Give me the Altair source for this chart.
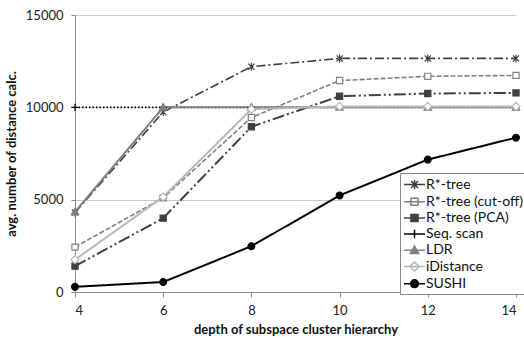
import altair as alt
import pandas as pd

depth = [4, 6, 8, 10, 12, 14]
series_names = ["R*-tree", "R*-tree (cut-off)", "R*-tree (PCA)", "Seq. scan", "LDR", "iDistance", "SUSHI"]
rtree = [4300, 9750, 12200, 12650, 12650, 12650]
rtree_cut = [2430, 5100, 9450, 11450, 11680, 11730]
rtree_pca = [1400, 4000, 8950, 10600, 10750, 10780]
seq_scan = [10000, 10000, 10000, 10000, 10000, 10000]
ldr = [4340, 10000, 10000, 10000, 10000, 10000]
idistance = [1750, 5150, 9900, 10050, 10050, 10050]
sushi = [280, 540, 2480, 5230, 7170, 8360]
values = [rtree, rtree_cut, rtree_pca, seq_scan, ldr, idistance, sushi]

colors = ["#404040", "#808080", "#404040", "#000000", "#808080", "#b8b8b8", "#000000"]
fills = ["transparent", "#ffffff", "#404040", "transparent", "#808080", "#ffffff", "#000000"]
dashes = [[9, 3, 2, 3], [5, 2], [12, 3, 2, 3, 2, 3], [1.5, 2], [1, 0], [1, 0], [1, 0]]
widths = [1.6, 1.6, 2, 1.6, 2, 2, 2]

marker = {
    "ast": [(-1, -1, 1, 1), (-1, 1, 1, -1), (0, -1.3, 0, 1.3)],
    "plus": [(-1.2, 0, 1.2, 0), (0, -1.2, 0, 1.2)],
}
series_marker = ["ast", "sq", "sq", "plus", "tri", "dia", "circ"]


def marker_path(kind, k):
    f = lambda v: str(round(v * k, 3))
    if kind in ("ast", "plus"):
        return "".join(f"M{f(a)},{f(b)}L{f(c)},{f(d)}" for a, b, c, d in marker[kind])
    if kind == "sq":
        return f"M{f(-1)},{f(-1)}H{f(1)}V{f(1)}H{f(-1)}Z"
    if kind == "tri":
        return f"M0,{f(-1.2)}L{f(1.2)},{f(0.9)}H{f(-1.2)}Z"
    if kind == "dia":
        return f"M0,{f(-1.3)}L{f(1.3)},0L0,{f(1.3)}L{f(-1.3)},0Z"
    r = f(1.1)
    return f"M-{r},0A{r},{r} 0 1,0 {r},0A{r},{r} 0 1,0 -{r},0Z"


legend_shapes = ["M-1.4,0H1.4" + marker_path(m, 0.47) for m in series_marker]

rows = []
for i, name in enumerate(series_names):
    for x, v in zip(depth, values[i]):
        rows.append({
            "depth": x, "value": v, "series": name, "order": i,
            "color": colors[i], "fill": fills[i], "dash": dashes[i],
            "sw": widths[i], "shape": marker_path(series_marker[i], 1.0),
        })
df = pd.DataFrame(rows)

FONT = "Lato"

xenc = alt.X("depth:Q", scale=alt.Scale(domain=[4, 14], nice=False),
             axis=alt.Axis(values=depth, title="depth of subspace cluster hierarchy", grid=False,
                           tickSize=5, labelPadding=7, titlePadding=6))
yenc = alt.Y("value:Q", scale=alt.Scale(domain=[0, 15000], nice=False),
             axis=alt.Axis(values=[0, 5000, 10000, 15000], format="d", title="avg. number of distance calc.",
                           grid=True, tickSize=4, labelPadding=8, titlePadding=7))

lines = alt.Chart(df).mark_line().encode(
    x=xenc, y=yenc,
    detail="series:N",
    color=alt.Color("color:N", scale=None),
    strokeDash=alt.StrokeDash("dash", scale=None),
    strokeWidth=alt.StrokeWidth("sw:Q", scale=None),
    order=alt.Order("depth:Q"),
)

points = alt.Chart(df).mark_point(filled=True, opacity=1, size=38, strokeWidth=1.2).encode(
    x="depth:Q", y="value:Q",
    shape=alt.Shape("shape:N", scale=None),
    stroke=alt.Stroke("color:N", scale=None),
    fill=alt.Fill("fill:N", scale=None),
)

leg_props = dict(title=None, orient="none", legendX=325, legendY=158)
legend_layer = alt.Chart(df).mark_point(filled=True, opacity=1, strokeWidth=1.5).encode(
    x="depth:Q", y="value:Q",
    shape=alt.Shape("series:N", scale=alt.Scale(domain=series_names, range=legend_shapes),
                    legend=alt.Legend(**leg_props)),
    stroke=alt.Stroke("series:N", scale=alt.Scale(domain=series_names, range=colors),
                      legend=alt.Legend(**leg_props)),
    fill=alt.Fill("series:N", scale=alt.Scale(domain=series_names, range=fills),
                  legend=alt.Legend(**leg_props)),
).transform_filter("datum.depth < 0")

chart = alt.layer(lines, points, legend_layer).properties(
    width=441, height=277,
    padding={"left": 75, "top": 15, "right": 8, "bottom": 49},
    autosize=alt.AutoSizeParams(type="none"),
).configure_view(stroke=None).configure_axis(
    labelFont=FONT, titleFont=FONT, labelFontSize=13, titleFontSize=13,
    labelColor="#222222", titleColor="#111111", titleFontWeight="bold",
    domainColor="#8c8c8c", tickColor="#8c8c8c", gridColor="#c8c8c8",
).configure_legend(
    labelFont=FONT, labelFontSize=14, labelColor="#111111", labelLimit=200,
    symbolSize=225, symbolStrokeWidth=1.5, rowPadding=0.2, labelOffset=3,
    strokeColor="#888888", fillColor="#ffffff", padding=3, symbolOffset=3,
)

chart.save("out.html", embed_options={"renderer": "svg", "actions": False})
